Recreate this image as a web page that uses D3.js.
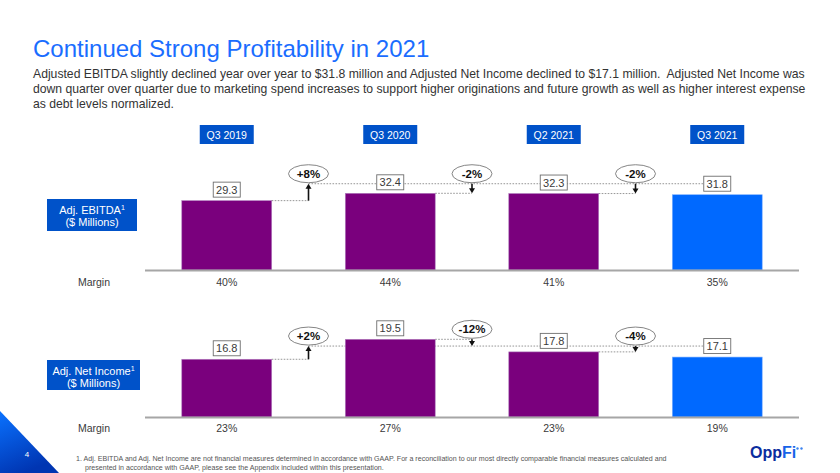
<!DOCTYPE html>
<html>
<head>
<meta charset="utf-8">
<script src="https://cdn.jsdelivr.net/npm/d3@7"></script>
<style>
  html, body { margin: 0; padding: 0; background: #fff; }
  svg { display: block; font-family: "Liberation Sans", Arial, sans-serif; }
  .pre { white-space: pre; }
</style>
</head>
<body>
<svg id="chart" width="840" height="473"></svg>
<script>
// ---------- data ----------
const categories = ["Q3 2019", "Q3 2020", "Q2 2021", "Q3 2021"];
const ebitdaValues = [29.3, 32.4, 32.3, 31.8];
const ebitdaMargins = ["40%", "44%", "41%", "35%"];
const ebitdaChanges = ["+8%", "-2%", "-2%"];
const netIncomeValues = [16.8, 19.5, 17.8, 17.1];
const netIncomeMargins = ["23%", "27%", "23%", "19%"];
const netIncomeChanges = ["+2%", "-12%", "-4%"];
const titleText = "Continued Strong Profitability in 2021";
const subtitleLines = [
  "Adjusted EBITDA slightly declined year over year to $31.8 million and Adjusted Net Income declined to $17.1 million.  Adjusted Net Income was",
  "down quarter over quarter due to marketing spend increases to support higher originations and future growth as well as higher interest expense",
  "as debt levels normalized."
];
const footnoteLines = [
  "1. Adj. EBITDA and Adj. Net Income are not financial measures determined in accordance with GAAP. For a reconciliation to our most directly comparable financial measures calculated and",
  "presented in accordance with GAAP, please see the Appendix included within this presentation."
];

// ---------- styling ----------
const PURPLE = "#7a007d";
const BLUE_BAR = "#0069ff";
const HEADER_BLUE = "#0052c9";
const TEXT = "#3a3a3a";

const svg = d3.select("#chart");

// title & subtitle
svg.append("text").attr("x", 33).attr("y", 56.5)
  .attr("font-size", 24).attr("fill", "#1a6dff").text(titleText);
svg.append("g").selectAll("text").data(subtitleLines).join("text")
  .attr("class", "pre")
  .attr("x", 33).attr("y", (d, i) => 77.5 + i * 15)
  .attr("font-size", 12.2).attr("fill", "#333").text(d => d);

// x scale shared by both panels
const x = d3.scaleBand().domain(categories).range([145, 799])
  .paddingInner(0.45).paddingOuter(0.225);
const bw = x.bandwidth();

// header boxes
const hdr = svg.append("g");
categories.forEach(c => {
  const cx = x(c) + bw / 2;
  hdr.append("rect").attr("x", cx - 27).attr("y", 125).attr("width", 54).attr("height", 19)
    .attr("fill", HEADER_BLUE);
  hdr.append("text").attr("x", cx).attr("y", 138.5).attr("text-anchor", "middle")
    .attr("font-size", 10.5).attr("fill", "#fff").text(c);
});

const defs = svg.append("defs");
const grad = defs.append("linearGradient").attr("id", "tri").attr("x1", 0).attr("y1", 0).attr("x2", 0.4).attr("y2", 1);
grad.append("stop").attr("offset", "0%").attr("stop-color", "#0a72ff");
grad.append("stop").attr("offset", "100%").attr("stop-color", "#0035b2");

function panel(opts) {
  const { values, margins, changes, y, baseY, boxY, boxH, boxLines, marginY } = opts;
  const g = svg.append("g");
  const yTop = values.map(v => y(v));
  const labelOffset = 11;
  const refY = yTop[values.length - 1] - labelOffset;
  const arrowXs = categories.slice(0, -1).map(c => x(c) + bw + (x.step() - bw) / 2);
  const lastLabelLeft = x(categories[categories.length - 1]) + bw / 2 - 13.5;

  // dotted reference line
  g.append("line").attr("x1", arrowXs[0]).attr("x2", lastLabelLeft)
    .attr("y1", refY).attr("y2", refY)
    .attr("stroke", "#8a8a8a").attr("stroke-width", 0.9).attr("stroke-dasharray", "1.6,1.4");
  // dotted connectors from bar tops
  arrowXs.forEach((ax, i) => {
    g.append("line").attr("x1", x(categories[i]) + bw).attr("x2", ax)
      .attr("y1", yTop[i]).attr("y2", yTop[i])
      .attr("stroke", "#8a8a8a").attr("stroke-width", 0.9).attr("stroke-dasharray", "1.6,1.4");
  });

  // bars
  g.selectAll("rect.bar").data(values).join("rect").attr("class", "bar")
    .attr("x", (d, i) => x(categories[i]))
    .attr("y", d => y(d))
    .attr("width", bw)
    .attr("height", d => baseY - y(d))
    .attr("fill", (d, i) => i === values.length - 1 ? BLUE_BAR : PURPLE)
    .attr("stroke", (d, i) => i === values.length - 1 ? "#7fb2ff" : "#b27fbf")
    .attr("stroke-width", 0.6);

  // baseline
  g.append("line").attr("x1", 145).attr("x2", 799).attr("y1", baseY + 0.5).attr("y2", baseY + 0.5)
    .attr("stroke", "#a6a6a6").attr("stroke-width", 2);

  // value labels
  values.forEach((v, i) => {
    const cx = x(categories[i]) + bw / 2;
    const cy = yTop[i] - labelOffset;
    g.append("rect").attr("x", cx - 13.5).attr("y", cy - 7.5).attr("width", 27).attr("height", 15)
      .attr("fill", "#fff").attr("stroke", "#6e6e6e").attr("stroke-width", 0.9);
    g.append("text").attr("x", cx).attr("y", cy + 4).attr("text-anchor", "middle")
      .attr("font-size", 11).attr("fill", TEXT).text(v.toFixed(1));
  });

  // difference arrows
  arrowXs.forEach((ax, i) => {
    const positive = changes[i].startsWith("+");
    const yA = yTop[i], yB = refY;
    const yHi = Math.min(yA, yB), yLo = Math.max(yA, yB);
    const head = positive ? yHi : yLo;
    const tail = positive ? yLo : yHi;
    const dir = positive ? 1 : -1;
    g.append("line").attr("x1", ax).attr("x2", ax)
      .attr("y1", tail).attr("y2", head + dir * 4)
      .attr("stroke", "#111").attr("stroke-width", 1.6);
    g.append("path")
      .attr("d", `M${ax},${head} L${ax - 3},${head + dir * 5} L${ax + 3},${head + dir * 5} Z`)
      .attr("fill", "#111");
    const ey = yHi - 10;
    g.append("ellipse").attr("cx", ax).attr("cy", ey).attr("rx", 20).attr("ry", 9)
      .attr("fill", "#fff").attr("stroke", "#777").attr("stroke-width", 0.9);
    g.append("text").attr("x", ax).attr("y", ey + 4).attr("text-anchor", "middle")
      .attr("font-size", 11.5).attr("font-weight", "bold").attr("fill", "#111").text(changes[i]);
  });

  // left label box
  g.append("rect").attr("x", 47).attr("y", boxY).attr("width", boxLines.w).attr("height", boxH)
    .attr("fill", HEADER_BLUE);
  const t = g.append("text").attr("text-anchor", "middle").attr("fill", "#fff").attr("font-size", 11);
  const bx = 47 + boxLines.w / 2;
  const l1 = t.append("tspan").attr("x", bx).attr("y", boxY + 14.5);
  l1.append("tspan").text(boxLines.a);
  l1.append("tspan").attr("font-size", 7).attr("dy", -4).text("1");
  t.append("tspan").attr("x", bx).attr("y", boxY + 27).text(boxLines.b);

  // margins
  g.append("text").attr("x", 94).attr("y", marginY).attr("text-anchor", "middle")
    .attr("font-size", 10.5).attr("fill", TEXT).text("Margin");
  margins.forEach((m, i) => {
    g.append("text").attr("x", x(categories[i]) + bw / 2).attr("y", marginY)
      .attr("text-anchor", "middle").attr("font-size", 10.5).attr("fill", TEXT).text(m);
  });
}

// EBITDA panel
const yE = d3.scaleLinear().domain([0, d3.max(ebitdaValues)]).range([270, 193.3]);
panel({ values: ebitdaValues, margins: ebitdaMargins, changes: ebitdaChanges, y: yE, baseY: 270,
  boxY: 199, boxH: 32, boxLines: { a: "Adj. EBITDA", b: "($ Millions)", w: 90 }, marginY: 285.5 });

// Net income panel
const netIncomeAxisMin = 9;
const yN = d3.scaleLinear().domain([netIncomeAxisMin, d3.max(netIncomeValues)]).range([417, 339.3]);
panel({ values: netIncomeValues, margins: netIncomeMargins, changes: netIncomeChanges, y: yN, baseY: 417,
  boxY: 360, boxH: 30, boxLines: { a: "Adj. Net Income", b: "($ Millions)", w: 93 }, marginY: 432 });

// page corner triangle & page number
svg.append("path").attr("d", "M0,411 L59,473 L0,473 Z").attr("fill", "url(#tri)");
svg.append("text").attr("x", 27).attr("y", 457).attr("text-anchor", "middle")
  .attr("font-size", 8).attr("fill", "#fff").text("4");

// footnote
svg.append("g").selectAll("text").data(footnoteLines).join("text")
  .attr("x", (d, i) => i === 0 ? 76 : 85).attr("y", (d, i) => 461 + i * 8.5)
  .attr("font-size", 7.1).attr("fill", "#555").text(d => d);

// logo
const logo = svg.append("text").attr("x", 750).attr("y", 458).attr("font-size", 16).attr("font-weight", "bold");
logo.append("tspan").attr("fill", "#0b2d9e").text("Opp");
logo.append("tspan").attr("fill", "#1763e8").text("Fi");
svg.append("circle").attr("cx", 797.5).attr("cy", 448.5).attr("r", 1.2).attr("fill", "#3b82f0");
svg.append("circle").attr("cx", 801.5).attr("cy", 448.5).attr("r", 1.2).attr("fill", "#3b82f0");
</script>
</body>
</html>
